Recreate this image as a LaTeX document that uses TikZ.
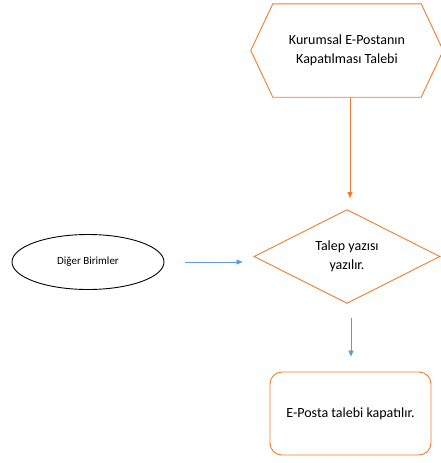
\documentclass[tikz,border=0pt]{standalone}
\usepackage{fontspec}
\setmainfont{Carlito}
\usetikzlibrary{shapes.geometric,arrows.meta,calc}
\definecolor{orng}{HTML}{ED7D31}
\definecolor{blu}{HTML}{5B9BD5}
\begin{document}
\begin{tikzpicture}[x=1pt,y=-1pt,
  txt/.style={font=\fontsize{14}{18.5}\selectfont, align=center, text=black},
  hexbox/.style={txt, minimum width=192pt, minimum height=93pt, inner sep=0pt},
  decbox/.style={txt, diamond, draw=orng, line width=0.9pt, minimum width=186pt, minimum height=91pt, inner sep=0pt},
  endbox/.style={txt, draw=orng, line width=0.9pt, rounded corners=12pt, minimum width=161pt, minimum height=83pt},
  srcbox/.style={ellipse, draw=black, line width=0.9pt, minimum width=152pt, minimum height=55pt, font=\fontsize{11}{13}\selectfont},
  oarrow/.style={draw=orng, line width=0.8pt, -{Triangle[length=6pt,width=5pt]}},
  barrow/.style={draw=blu, line width=0.8pt, -{Triangle[length=6pt,width=5pt]}}
]
\useasboundingbox (0,0) rectangle (441,463);
\node[hexbox] (hex) at (347,50.5) {Kurumsal E-Postanın\\Kapatılması Talebi};
\draw[orng, line width=0.9pt] ($(hex.north west)+(22,0)$) -- ($(hex.north east)+(-22,0)$) -- (hex.east) -- ($(hex.south east)+(-22,0)$) -- ($(hex.south west)+(22,0)$) -- (hex.west) -- cycle;
\node[decbox] (dec) at (347,256.5) {Talep yazısı\\yazılır.};
\node[srcbox] (src) at (88,262) {Diğer Birimler};
\node[endbox] (end) at (350.5,413.5) {E-Posta talebi kapatılır.};
\coordinate (hexout) at ($(hex.south)+(3,0)$);
\coordinate (decout) at ($(dec.south)+(4,0)$);
\draw[oarrow, shorten >=11pt] (hexout) -- (hexout |- dec.north);
\draw[barrow, shorten <=21pt, shorten >=11pt] (src.east) -- (src.east -| dec.west);
\draw[barrow, shorten <=14pt, shorten >=15pt] (decout) -- (decout |- end.north);
\end{tikzpicture}
\end{document}
